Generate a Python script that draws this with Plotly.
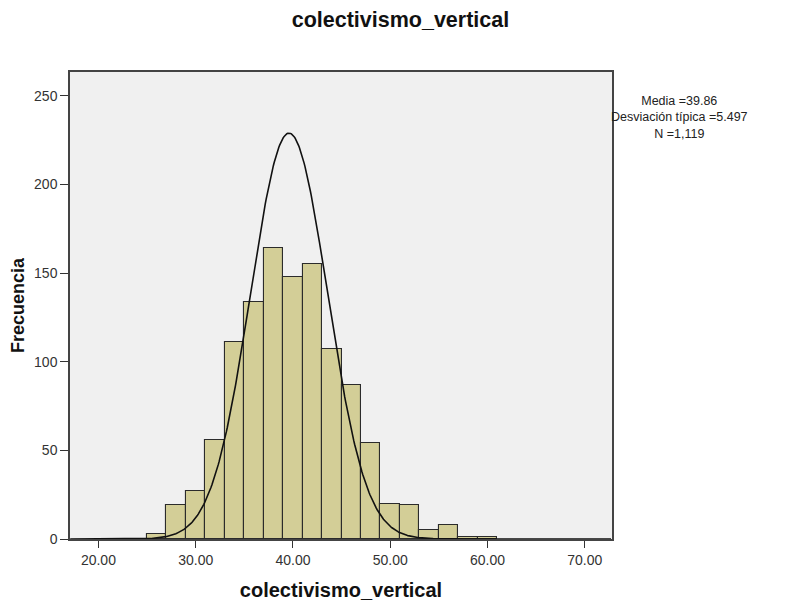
import numpy as np
import plotly.graph_objects as go

# Data
bin_starts = [25, 27, 29, 31, 33, 35, 37, 39, 41, 43, 45, 47, 49, 51, 53, 55, 57, 59]
counts = [3, 19, 27, 56, 111, 134, 164, 148, 155, 107, 87, 54, 20, 19, 5, 8, 1, 1]
bin_width = 2
x_ticks = [20, 30, 40, 50, 60, 70]
y_ticks = [0, 50, 100, 150, 200, 250]

# Normal curve as drawn in the reference
curve_center = 39.6
curve_sd = 3.95
curve_peak = 229

stat_lines = ["Media =39.86", "Desviación típica =5.497", "N =1,119"]

FONT = "Liberation Sans, Arial, sans-serif"

centers = [s + bin_width / 2 for s in bin_starts]
cx = np.linspace(17.1, 72.7, 600)
cy = curve_peak * np.exp(-0.5 * ((cx - curve_center) / curve_sd) ** 2)

fig = go.Figure()
fig.add_trace(go.Bar(
    x=centers, y=counts, width=[bin_width] * len(centers),
    marker=dict(color="#D3CE97", line=dict(color="#2b2b2b", width=1.1)),
    showlegend=False, hoverinfo="x+y",
))
fig.add_trace(go.Scatter(
    x=cx, y=cy, mode="lines", line=dict(color="#111111", width=1.6),
    showlegend=False, hoverinfo="skip",
))

fig.update_layout(
    width=793, height=604,
    margin=dict(l=70, r=181, t=72, b=65),
    paper_bgcolor="white", plot_bgcolor="#F0F0F0",
    font=dict(family=FONT, color="#222222"),
    bargap=0,
    title=dict(text="<b>colectivismo_vertical</b>", x=0.505, xanchor="center",
               y=0.967, yanchor="middle", font=dict(size=21.5, color="#111111")),
    annotations=[dict(
        text="<br>".join(stat_lines), xref="paper", yref="paper", x=1.125, y=0.9015,
        xanchor="center", yanchor="middle", showarrow=False, align="center",
        font=dict(size=12.5, color="#222222"),
    )],
)
fig.update_xaxes(
    range=[17.08, 72.8], tickvals=x_ticks, ticktext=[f"{v:.2f}" for v in x_ticks],
    ticks="outside", ticklen=7, tickcolor="#333333", tickwidth=1.3,
    showline=True, linecolor="#444444", linewidth=1.5, mirror=True,
    showgrid=False, zeroline=False, automargin=False,
    tickfont=dict(size=14, color="#333333"),
    title=dict(text="<b>colectivismo_vertical</b>", font=dict(size=20, color="#111111"), standoff=16),
)
fig.update_yaxes(
    range=[0, 263.5], tickvals=y_ticks,
    ticks="outside", ticklen=8, tickcolor="#333333", tickwidth=1.3,
    showline=True, linecolor="#444444", linewidth=1.5, mirror=True,
    showgrid=False, zeroline=False, automargin=False,
    tickfont=dict(size=14, color="#333333"),
    title=dict(text="<b>Frecuencia</b>", font=dict(size=18, color="#111111"), standoff=5),
)

fig.write_html("out.html")
